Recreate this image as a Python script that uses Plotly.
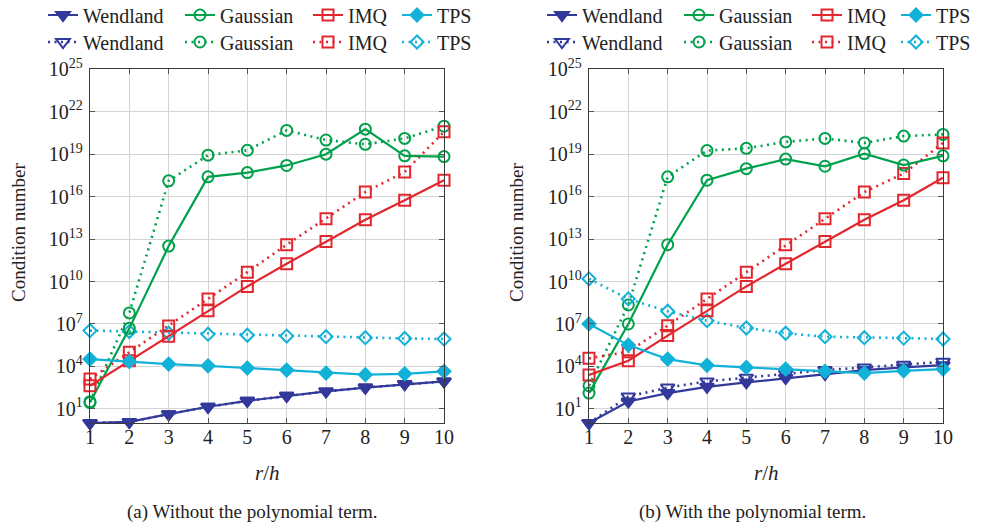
import plotly.graph_objects as go

# r/h sample points
r_over_h = [1, 2, 3, 4, 5, 6, 7, 8, 9, 10]

# (a) condition numbers without the polynomial term
wendland_a = [1.0, 1.2, 4.2, 14, 37, 83, 170, 320, 560, 870]
wendland_a_alt = [1.0, 1.2, 4.2, 14, 37, 83, 170, 320, 560, 870]
gaussian_a = [28, 4.9e6, 3.2e12, 2.5e17, 5.0e17, 1.6e18, 1.0e19, 5.9e20, 7.6e18, 6.8e18]
gaussian_a_alt = [32, 6.0e7, 1.3e17, 8.5e18, 1.9e19, 4.8e20, 1.0e20, 5.0e19, 1.3e20, 9.5e20]
imq_a = [430, 2.5e4, 1.35e6, 8.7e7, 4.5e9, 1.8e11, 6.8e12, 2.3e14, 5.5e15, 1.45e17]
imq_a_alt = [1.3e3, 1.0e5, 7.2e6, 5.9e8, 4.6e10, 4.0e12, 2.75e14, 2.1e16, 5.6e17, 3.8e20]
tps_a = [3.3e4, 2.2e4, 1.45e4, 1.1e4, 7.6e3, 5.5e3, 3.4e3, 2.6e3, 3.0e3, 4.5e3]
tps_a_alt = [3.4e6, 2.9e6, 2.2e6, 1.9e6, 1.6e6, 1.4e6, 1.26e6, 1.07e6, 9.5e5, 8.7e5]

# (b) condition numbers with the polynomial term
wendland_b = [1.0, 33, 130, 360, 740, 1.5e3, 2.9e3, 5.5e3, 8.5e3, 1.23e4]
wendland_b_alt = [1.0, 74, 320, 870, 1.6e3, 2.9e3, 5.5e3, 8.5e3, 1.3e4, 2.1e4]
gaussian_b = [130, 1.0e7, 4.0e12, 1.45e17, 9.5e17, 4.5e18, 1.4e18, 1.1e19, 1.7e18, 7.6e18]
gaussian_b_alt = [430, 2.2e8, 2.5e17, 1.8e19, 2.6e19, 7.4e19, 1.3e20, 6.3e19, 1.9e20, 2.5e20]
imq_b = [2.5e3, 2.5e4, 1.5e6, 8.7e7, 4.5e9, 1.8e11, 6.8e12, 2.3e14, 5.5e15, 2.2e17]
imq_b_alt = [3.7e4, 1.1e5, 7.6e6, 5.9e8, 4.6e10, 4.0e12, 2.75e14, 2.1e16, 4.3e17, 6.3e19]
tps_b = [1.0e7, 3.2e5, 3.3e4, 1.2e4, 8.5e3, 6.5e3, 4.5e3, 3.4e3, 4.9e3, 6.5e3]
tps_b_alt = [1.55e10, 5.9e8, 7.9e7, 1.7e7, 5.2e6, 2.2e6, 1.26e6, 1.07e6, 1.0e6, 8.7e5]

y_tick_exponents = [1, 4, 7, 10, 13, 16, 19, 22, 25]
captions = ["(a) Without the polynomial term.", "(b) With the polynomial term."]

FONT = "Liberation Serif"
TEXT = "#222222"

W, H = 982, 529
X_DOM = [(90 / W, 444 / W), (589 / W, 943 / W)]
Y_DOM = (1 - 423 / H, 1 - 69.3 / H)

# kernel -> (colour, solid marker, dotted marker, legend entry width)
STYLE = {
    "Wendland": ("#33399b", "triangle-down", "triangle-down-open", 92),
    "Gaussian": ("#00a14b", "circle-open", "circle-open", 83),
    "IMQ": ("#e3262d", "square-open", "square-open", 44),
    "TPS": ("#12b2d8", "diamond", "diamond-open", 40),
}

panels = [
    {
        "Wendland": (wendland_a, wendland_a_alt),
        "Gaussian": (gaussian_a, gaussian_a_alt),
        "IMQ": (imq_a, imq_a_alt),
        "TPS": (tps_a, tps_a_alt),
    },
    {
        "Wendland": (wendland_b, wendland_b_alt),
        "Gaussian": (gaussian_b, gaussian_b_alt),
        "IMQ": (imq_b, imq_b_alt),
        "TPS": (tps_b, tps_b_alt),
    },
]

fig = go.Figure()

for p, series in enumerate(panels):
    xa = "x" if p == 0 else "x2"
    ya = "y" if p == 0 else "y2"
    leg_solid = "legend" if p == 0 else "legend3"
    leg_dot = "legend2" if p == 0 else "legend4"
    for dotted in (True, False):
        for name, (solid_vals, dot_vals) in series.items():
            color, sym_solid, sym_dot, lw = STYLE[name]
            vals = dot_vals if dotted else solid_vals
            sym = sym_dot if dotted else sym_solid
            size = 11
            if name == "TPS":
                size = 10
            if name == "Wendland":
                size = 12
            fig.add_trace(go.Scatter(
                x=r_over_h, y=vals, xaxis=xa, yaxis=ya,
                mode="lines+markers", name=name,
                legend=leg_dot if dotted else leg_solid,
                legendwidth=lw,
                cliponaxis=False,
                line=dict(color=color, width=2.6 if dotted else 2.2,
                          dash="2px,4.5px" if dotted else "solid"),
                marker=dict(symbol=sym, size=size, color=color,
                            line=dict(color=color, width=2)),
            ))

axis_common = dict(
    showgrid=True, gridcolor="#d4d4d4", gridwidth=1,
    showline=True, linecolor="#3a3a3a", linewidth=1.3, mirror="allticks",
    ticks="inside", ticklen=5, tickcolor="#555555", tickwidth=1,
    tickfont=dict(family=FONT, size=20, color=TEXT),
    zeroline=False,
)

y_vals = [10.0 ** e for e in y_tick_exponents]
y_text = ["10<sup>%d</sup>" % e for e in y_tick_exponents]

layout = dict(
    width=W, height=H,
    margin=dict(l=0, r=0, t=0, b=0, autoexpand=False),
    paper_bgcolor="white", plot_bgcolor="white",
    font=dict(family=FONT, color=TEXT),
    annotations=[],
)

for p in range(2):
    sx = "" if p == 0 else "2"
    layout["xaxis" + sx] = dict(
        axis_common, domain=list(X_DOM[p]), range=[1, 10],
        tickvals=r_over_h, ticktext=[str(v) for v in r_over_h],
        anchor="y" + sx, ticklabelstandoff=-4,
    )
    layout["yaxis" + sx] = dict(
        axis_common, domain=list(Y_DOM), type="log", range=[0, 25],
        tickvals=y_vals, ticktext=y_text,
        anchor="x" + sx, ticklabelstandoff=2,
    )
    cx = (X_DOM[p][0] + X_DOM[p][1]) / 2
    layout["annotations"] += [
        dict(text="<i>r</i>/<i>h</i>", x=cx, y=1 - 473 / H, xref="paper", yref="paper",
             xanchor="center", yanchor="middle",
             showarrow=False, font=dict(family=FONT, size=21, color=TEXT)),
        dict(text=captions[p], x=cx - 14 / W, y=1 - 512 / H, xref="paper", yref="paper",
             xanchor="center", yanchor="middle",
             showarrow=False, font=dict(family=FONT, size=19, color=TEXT)),
        dict(text="Condition number", textangle=-90,
             x=(18 if p == 0 else 516) / W, y=1 - 233 / H, xref="paper", yref="paper",
             xanchor="center", yanchor="middle",
             showarrow=False, font=dict(family=FONT, size=19, color=TEXT)),
    ]

legend_common = dict(
    orientation="h", xanchor="left", yanchor="middle",
    bgcolor="rgba(0,0,0,0)", borderwidth=0,
    font=dict(family=FONT, size=20, color=TEXT),
    itemclick=False, itemdoubleclick=False,
)
layout["legend"] = dict(legend_common, x=43 / W, y=1 - 15 / H)
layout["legend2"] = dict(legend_common, x=43 / W, y=1 - 42 / H)
layout["legend3"] = dict(legend_common, x=542 / W, y=1 - 15 / H)
layout["legend4"] = dict(legend_common, x=542 / W, y=1 - 42 / H)

fig.update_layout(**layout)
fig.write_html("out.html")
